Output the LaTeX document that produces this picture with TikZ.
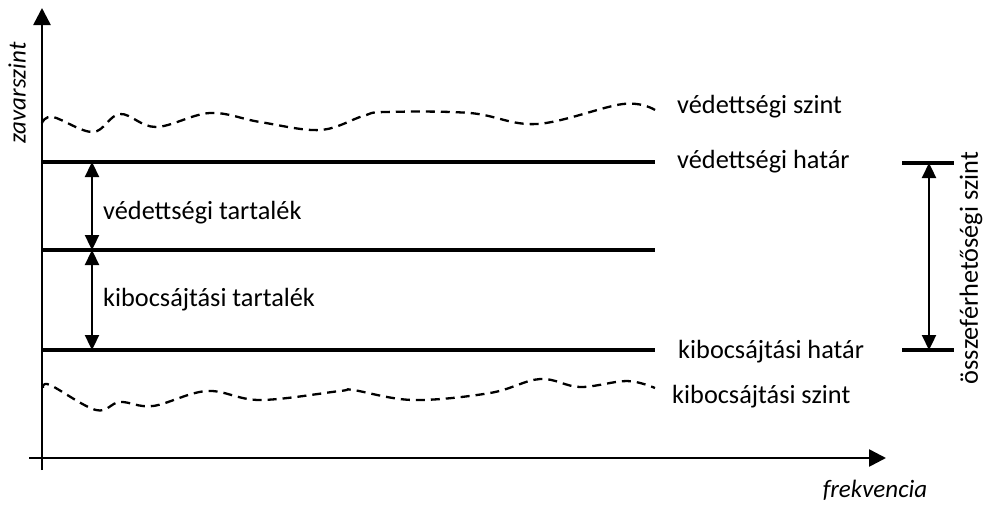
\documentclass[tikz,border=0pt]{standalone}
\usepackage{fontspec}
\setmainfont{Carlito}
\usetikzlibrary{arrows.meta}
\begin{document}
\begin{tikzpicture}[x=1pt,y=-1pt,
  lbl/.style={font=\fontsize{26.3}{30}\selectfont, inner sep=0pt, anchor=west},
  level/.style={line width=3.4pt},
  axis/.style={line width=2.6pt, -{Triangle[width=17pt,length=17pt]}},
  dim/.style={line width=2.3pt, {Triangle[width=14pt,length=15pt]}-{Triangle[width=14pt,length=15pt]}},
  wave/.style={line width=2.3pt, dash pattern=on 9pt off 6pt}]
\useasboundingbox (0,0) rectangle (984,504);
% axes
\coordinate (ybot) at (42,470);
\coordinate (ytop) at (42,8);
\coordinate (xleft) at (29,458);
\coordinate (xright) at (886,458);
\draw[axis] (ybot) -- (ytop);
\draw[axis] (xleft) -- (xright);
\node[font=\fontsize{25}{30}\selectfont\itshape, rotate=90, inner sep=0pt] (zav) at (17,93) {zavarszint};
\node[font=\fontsize{25}{30}\selectfont\itshape, inner sep=0pt] (frek) at (875,490) {frekvencia};
% levels
\coordinate (a1) at (42,162); \coordinate (a2) at (655,162);
\coordinate (b1) at (42,250); \coordinate (b2) at (655,250);
\coordinate (c1) at (42,350); \coordinate (c2) at (655,350);
\draw[level] (a1) -- (a2);
\draw[level] (b1) -- (b2);
\draw[level] (c1) -- (c2);
% waves
\draw[wave] plot[smooth, tension=0.6] coordinates {(42,123) (53,117) (93,132) (120,114) (156,127) (210,113) (260,122) (320,130) (363,116) (385,112) (470,113) (537,124) (623,104) (655,110)};
\draw[wave] plot[smooth, tension=0.6] coordinates {(43,388) (50,385) (96,410) (120,402) (153,406) (207,391) (260,400) (340,391) (353,390) (413,400) (490,393) (540,379) (580,387) (627,381) (655,388)};
% labels
\node[lbl] (vsz) at (677,107) {védettségi szint};
\node[lbl] (vh) at (677,162) {védettségi határ};
\node[lbl] (kh) at (678,352) {kibocsájtási határ};
\node[lbl] (ksz) at (672,397) {kibocsájtási szint};
\node[lbl] (vt) at (103,213) {védettségi tartalék};
\node[lbl] (kt) at (103,300) {kibocsájtási tartalék};
% dimension arrows
\coordinate (d1) at (92,162); \coordinate (d2) at (92,250); \coordinate (d3) at (92,350);
\draw[dim] (d1) -- (d2);
\draw[dim] (d2) -- (d3);
% right bracket
\coordinate (r1) at (902,163); \coordinate (r2) at (954,163);
\coordinate (r3) at (902,350); \coordinate (r4) at (954,350);
\draw[level] (r1) -- (r2);
\draw[level] (r3) -- (r4);
\coordinate (ra) at (929,163); \coordinate (rb) at (929,350);
\draw[dim] (ra) -- (rb);
\node[font=\fontsize{26.3}{30}\selectfont, rotate=90, inner sep=0pt] (osz) at (971,268) {összeférhetőségi szint};
\end{tikzpicture}
\end{document}
